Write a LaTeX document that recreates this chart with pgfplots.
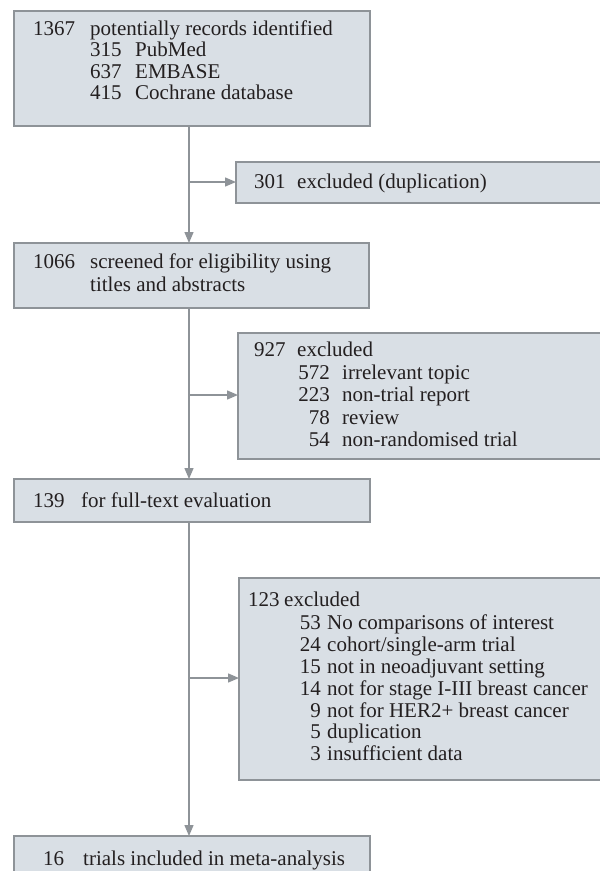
\documentclass[border=0pt]{standalone}
\usepackage{fontspec}
\setmainfont{Liberation Serif}
\usepackage{pgfplots}
\pgfplotsset{compat=1.18}
\usetikzlibrary{arrows.meta}
\definecolor{boxfill}{HTML}{D9DFE5}
\definecolor{boxdraw}{HTML}{8E9398}
\definecolor{linec}{HTML}{8E9398}
\definecolor{txt}{HTML}{231F20}
\begin{document}
\begin{tikzpicture}
\begin{axis}[
  width=600pt, height=871pt, scale only axis,
  xmin=0, xmax=600, ymin=0, ymax=871, y dir=reverse,
  axis lines=none, clip=true,
]
% boxes
\addplot[fill=boxfill, draw=boxdraw, line width=1.5pt] coordinates {(14,11) (370,11) (370,126) (14,126)} -- cycle;
\addplot[fill=boxfill, draw=boxdraw, line width=1.5pt] coordinates {(236,162) (615,162) (615,203) (236,203)} -- cycle;
\addplot[fill=boxfill, draw=boxdraw, line width=1.5pt] coordinates {(14,243) (369,243) (369,308) (14,308)} -- cycle;
\addplot[fill=boxfill, draw=boxdraw, line width=1.5pt] coordinates {(238,333) (615,333) (615,459) (238,459)} -- cycle;
\addplot[fill=boxfill, draw=boxdraw, line width=1.5pt] coordinates {(14,479) (370,479) (370,522) (14,522)} -- cycle;
\addplot[fill=boxfill, draw=boxdraw, line width=1.5pt] coordinates {(239,578) (615,578) (615,780) (239,780)} -- cycle;
\addplot[fill=boxfill, draw=boxdraw, line width=1.5pt] coordinates {(14,836) (370,836) (370,900) (14,900)} -- cycle;
% connectors
\addplot[draw=linec, line width=1.4pt, -{Triangle[length=11pt,width=9pt]}] coordinates {(189,126) (189,243)};
\addplot[draw=linec, line width=1.4pt, -{Triangle[length=11pt,width=9pt]}] coordinates {(189,308) (189,479)};
\addplot[draw=linec, line width=1.4pt, -{Triangle[length=11pt,width=9pt]}] coordinates {(189,522) (189,836)};
\addplot[draw=linec, line width=1.4pt, -{Triangle[length=11pt,width=9pt]}] coordinates {(189,182) (236,182)};
\addplot[draw=linec, line width=1.4pt, -{Triangle[length=11pt,width=9pt]}] coordinates {(189,395) (238,395)};
\addplot[draw=linec, line width=1.4pt, -{Triangle[length=11pt,width=9pt]}] coordinates {(189,678) (239,678)};
% text
\tikzset{t/.style={inner sep=0pt, text=txt, font=\fontsize{21}{24}\selectfont}}
% box 1
\node[t, anchor=base west] at (axis cs:33,35) {1367};
\node[t, anchor=base west] at (axis cs:90,35) {potentially records identified};
\node[t, anchor=base west] at (axis cs:90,56) {315};
\node[t, anchor=base west] at (axis cs:135,56) {PubMed};
\node[t, anchor=base west] at (axis cs:90,78) {637};
\node[t, anchor=base west] at (axis cs:135,78) {EMBASE};
\node[t, anchor=base west] at (axis cs:90,99) {415};
\node[t, anchor=base west] at (axis cs:135,99) {Cochrane database};
% box 2
\node[t, anchor=base west] at (axis cs:254,188) {301};
\node[t, anchor=base west] at (axis cs:297,188) {excluded (duplication)};
% box 3
\node[t, anchor=base west] at (axis cs:33,268) {1066};
\node[t, anchor=base west] at (axis cs:90,268) {screened for eligibility using};
\node[t, anchor=base west] at (axis cs:90,291) {titles and abstracts};
% box 4
\node[t, anchor=base west] at (axis cs:254,356) {927};
\node[t, anchor=base west] at (axis cs:297,356) {excluded};
\node[t, anchor=base east] at (axis cs:330,379) {572};
\node[t, anchor=base west] at (axis cs:342,379) {irrelevant topic};
\node[t, anchor=base east] at (axis cs:330,401) {223};
\node[t, anchor=base west] at (axis cs:342,401) {non-trial report};
\node[t, anchor=base east] at (axis cs:330,424) {78};
\node[t, anchor=base west] at (axis cs:342,424) {review};
\node[t, anchor=base east] at (axis cs:330,446) {54};
\node[t, anchor=base west] at (axis cs:342,446) {non-randomised trial};
% box 5
\node[t, anchor=base west] at (axis cs:33,507) {139};
\node[t, anchor=base west] at (axis cs:81,507) {for full-text evaluation};
% box 6
\node[t, anchor=base west] at (axis cs:248,606) {123};
\node[t, anchor=base west] at (axis cs:284,606) {excluded};
\node[t, anchor=base east] at (axis cs:321,629) {53};
\node[t, anchor=base west] at (axis cs:327,629) {No comparisons of interest};
\node[t, anchor=base east] at (axis cs:321,651) {24};
\node[t, anchor=base west] at (axis cs:327,651) {cohort/single-arm trial};
\node[t, anchor=base east] at (axis cs:321,673) {15};
\node[t, anchor=base west] at (axis cs:327,673) {not in neoadjuvant setting};
\node[t, anchor=base east] at (axis cs:321,695) {14};
\node[t, anchor=base west] at (axis cs:327,695) {not for stage I-III breast cancer};
\node[t, anchor=base east] at (axis cs:321,717) {9};
\node[t, anchor=base west] at (axis cs:327,717) {not for HER2+ breast cancer};
\node[t, anchor=base east] at (axis cs:321,738) {5};
\node[t, anchor=base west] at (axis cs:327,738) {duplication};
\node[t, anchor=base east] at (axis cs:321,760) {3};
\node[t, anchor=base west] at (axis cs:327,760) {insufficient data};
% box 7
\node[t, anchor=base west] at (axis cs:43,865) {16};
\node[t, anchor=base west] at (axis cs:83,865) {trials included in meta-analysis};
\end{axis}
\pgfresetboundingbox
\path (current axis.south west) rectangle (current axis.north east);
\end{tikzpicture}
\end{document}
